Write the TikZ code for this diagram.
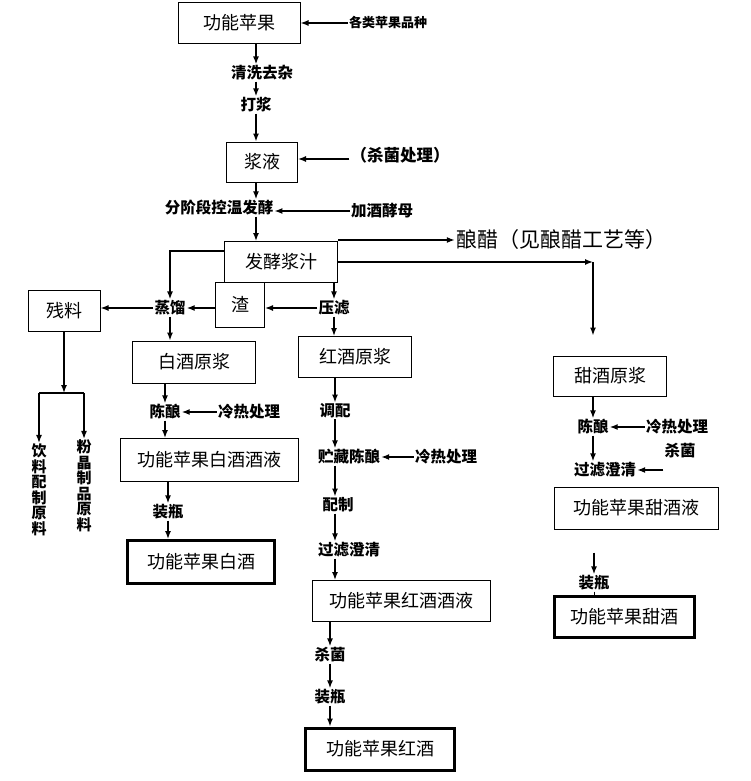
\documentclass[tikz,border=0pt]{standalone}
\usepackage{fontspec}
\setmainfont{Noto Sans CJK SC}
\usetikzlibrary{positioning,arrows.meta}

\tikzset{
  stage/.style={draw, line width=1pt, inner sep=0pt, font=\fontsize{18}{20}\selectfont},
  product/.style={stage, line width=3pt},
  proc/.style={inner sep=1pt, font=\fontsize{15.5}{17}\selectfont\bfseries},
  upright/.style={inner sep=1pt, align=center, font=\fontsize{15}{15.5}\selectfont\bfseries},
  flow/.style={line width=1.4pt, -{Latex[length=8pt,width=6pt]}},
}

\begin{document}
\begin{tikzpicture}[x=1pt, y=-1pt, on grid]
  \useasboundingbox (0,0) rectangle (750,781);

  \node [stage, minimum width=122pt, minimum height=41pt] (apple) at (239,23) {功能苹果};
  \node [proc, right=149pt of apple, font=\fontsize{13}{15}\selectfont\bfseries] (varieties) {各类苹果品种};
  \node [proc, below right=50pt and 23pt of apple] (wash) {清洗去杂};
  \node [proc, below left=32pt and 6pt of wash] (pulp) {打浆};
  \node [stage, minimum width=71pt, minimum height=40pt, below right=57pt and 6pt of pulp] (slurry) {浆液};
  \node [proc, above right=7pt and 138pt of slurry, font=\fontsize{16.5}{18}\selectfont\bfseries] (sterile) {（杀菌处理）};
  \node [proc, below left=46pt and 43pt of slurry] (ferm) {分阶段控温发酵};
  \node [proc, below right=3pt and 163pt of ferm] (yeast) {加酒酵母};
  \node [stage, minimum width=113pt, minimum height=41pt, below right=54pt and 62pt of ferm] (juice) {发酵浆汁};
  \node [above right=22pt and 280pt of juice, inner sep=1pt, font=\fontsize{21}{23}\selectfont] (vinegar) {酿醋（见酿醋工艺等）};

  \node [stage, minimum width=49pt, minimum height=45pt, below left=43pt and 41pt of juice] (dregs) {渣};
  \node [proc, below right=3pt and 94pt of dregs] (press) {压滤};
  \node [proc, below left=3pt and 70pt of dregs] (distil) {蒸馏};
  \node [stage, minimum width=72pt, minimum height=41pt, below left=3pt and 106pt of distil] (residue) {残料};
  \coordinate [below=61pt of residue.south] (fork);
  \node [upright, below left=179pt and 25pt of residue] (drink) {饮\\料\\配\\制\\原\\料};
  \node [upright, below right=175pt and 20pt of residue] (powder) {粉\\晶\\制\\品\\原\\料};

  \node [stage, minimum width=123pt, minimum height=42pt, below right=54pt and 24pt of distil] (whitebase) {白酒原浆};
  \node [proc, below left=50pt and 29pt of whitebase] (wage) {陈酿};
  \node [proc, right=84pt of wage] (wheat) {冷热处理};
  \node [stage, minimum width=178pt, minimum height=43pt, below right=48pt and 44pt of wage] (whiteliq) {功能苹果白酒酒液};
  \node [proc, below left=52pt and 41pt of whiteliq] (wbottle) {装瓶};
  \node [product, minimum width=147pt, minimum height=43pt, below right=50pt and 33pt of wbottle] (whitewine) {功能苹果白酒};

  \node [stage, minimum width=113pt, minimum height=41pt, below right=49pt and 21pt of press] (redbase) {红酒原浆};
  \node [proc, below left=54pt and 20pt of redbase] (blend) {调配};
  \node [proc, below right=46pt and 14pt of blend] (store) {贮藏陈酿};
  \node [proc, right=97pt of store] (rheat) {冷热处理};
  \node [proc, below left=48pt and 11pt of store] (mix) {配制};
  \node [proc, below right=45pt and 11pt of mix] (rfilter) {过滤澄清};
  \node [stage, minimum width=178pt, minimum height=41pt, below right=51pt and 52pt of rfilter] (redliq) {功能苹果红酒酒液};
  \node [proc, below left=54pt and 71pt of redliq] (rsterile) {杀菌};
  \node [proc, below=42pt of rsterile] (rbottle) {装瓶};
  \node [product, minimum width=149pt, minimum height=42pt, below right=52pt and 50pt of rbottle] (redwine) {功能苹果红酒};

  \node [stage, minimum width=113pt, minimum height=40pt, below right=114pt and 329pt of juice] (sweetbase) {甜酒原浆};
  \node [proc, below left=51pt and 17pt of sweetbase] (sage) {陈酿};
  \node [proc, right=84pt of sage] (sheat) {冷热处理};
  \node [proc, below right=24pt and 3pt of sheat] (ssterile) {杀菌};
  \node [proc, below right=43pt and 12pt of sage] (sfilter) {过滤澄清};
  \node [stage, minimum width=164pt, minimum height=42pt, below right=38pt and 31pt of sfilter] (sweetliq) {功能苹果甜酒液};
  \node [proc, below left=75pt and 42pt of sweetliq] (sbottle) {装瓶};
  \node [product, minimum width=140pt, minimum height=41pt, below right=34pt and 30pt of sbottle] (sweetwine) {功能苹果甜酒};

  \draw [flow] (varieties.west) -- (varieties.west -| apple.east);
  \draw [flow] (apple.south -| pulp) -- (pulp |- wash.north);
  \draw [flow] (pulp |- wash.south) -- (pulp.north);
  \draw [flow] (pulp.south) -- (pulp |- slurry.north);
  \draw [flow] ([yshift=-4pt]sterile.west) -- ([yshift=-4pt]sterile.west -| slurry.east);
  \draw [flow] (slurry.south -| pulp) -- (pulp |- ferm.north);
  \draw [flow] (yeast.west) -- (yeast.west -| ferm.east);
  \draw [flow] (pulp |- ferm.south) -- (pulp |- juice.north);
  \draw [flow] (juice.north east |- vinegar.west) -- (vinegar.west);
  \draw [flow] (juice.east) -- (juice.east -| sage);
  \draw [flow] (juice.east -| sage) -- ([yshift=20pt]sweetbase.north -| sage);
  \draw [flow] ([yshift=11pt]juice.west) -| (distil.north);
  \draw [flow] (juice.south -| press) -- (press.north);
  \draw [flow] (press.west) -- (press.west -| dregs.east);
  \draw [flow] (dregs.west |- distil) -- (distil.east);
  \draw [flow] (distil.west) -- (distil.west -| residue.east);
  \draw [flow] (residue.south) -- (fork);
  \draw [line width=1.4pt] (drink |- fork) -- (powder |- fork);
  \draw [flow] (drink |- fork) -- (drink.north);
  \draw [flow] (powder |- fork) -- (powder.north);

  \draw [flow] (distil.south) -- (distil |- whitebase.north);
  \draw [flow] (wage |- whitebase.south) -- (wage.north);
  \draw [flow] (wheat.west) -- (wage.east);
  \draw [flow] (wage.south) -- (wage |- whiteliq.north);
  \draw [flow] (wbottle |- whiteliq.south) -- (wbottle.north);
  \draw [flow] (wbottle.south) -- (wbottle |- whitewine.north);

  \draw [flow] (press.south) -- (press |- redbase.north);
  \draw [flow] (blend |- redbase.south) -- (blend.north);
  \draw [flow] (blend.south) -- (blend |- store.north);
  \draw [flow] (rheat.west) -- (store.east);
  \draw [flow] (blend |- store.south) -- (blend |- mix.north);
  \draw [flow] (blend |- mix.south) -- (blend |- rfilter.north);
  \draw [flow] (blend |- rfilter.south) -- (blend |- redliq.north);
  \draw [flow] (rsterile |- redliq.south) -- (rsterile.north);
  \draw [flow] (rsterile.south) -- (rbottle.north);
  \draw [flow] (rbottle.south) -- (rbottle |- redwine.north);

  \draw [flow] (sage |- sweetbase.south) -- (sage.north);
  \draw [flow] (sheat.west) -- (sage.east);
  \draw [flow] (sage.south) -- (sage |- sfilter.north);
  \draw [flow] (ssterile.west |- sfilter.east) -- (sfilter.east);
  \draw [flow] ([yshift=-23pt]sweetliq.south -| sbottle) -- (sbottle.north);
  \draw [line width=1pt] (sbottle.south) -- (sbottle |- sweetwine.north);
\end{tikzpicture}
\end{document}
